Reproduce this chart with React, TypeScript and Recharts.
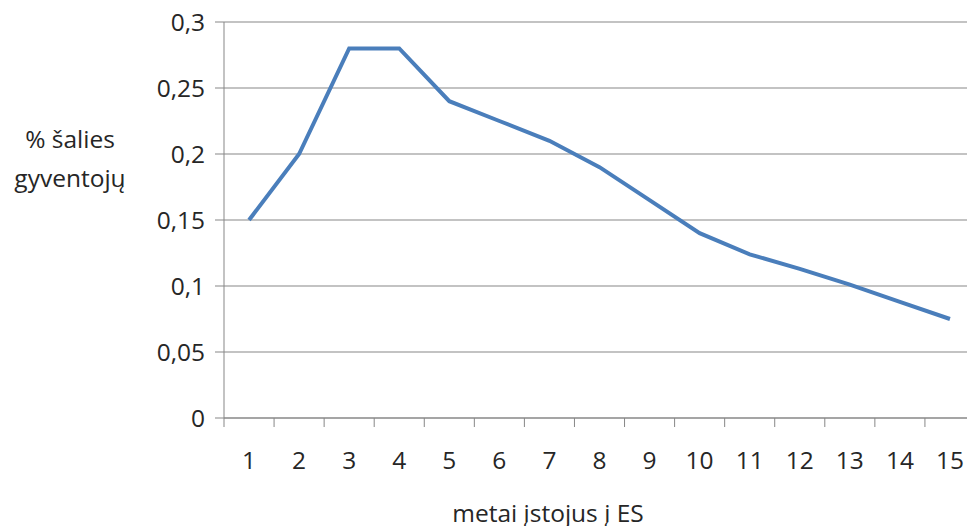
import { CartesianGrid, Label, Line, LineChart, XAxis, YAxis } from "recharts";

// years since joining the EU
const years = ["1", "2", "3", "4", "5", "6", "7", "8", "9", "10", "11", "12", "13", "14", "15"];
// share of the country's population (%)
const shares = [0.15, 0.2, 0.28, 0.28, 0.24, 0.225, 0.21, 0.19, 0.165, 0.14, 0.124, 0.113, 0.101, 0.088, 0.075];
const yTicks = [0, 0.05, 0.1, 0.15, 0.2, 0.25, 0.3];

const data = years.map((year, i) => ({ year, share: shares[i] }));

const FONT = "'Open Sans', sans-serif";
const GRAY = "#878787";
const TEXT = "#262626";
const FS = 24.5;

const fmt = (v: number) => String(v).replace(".", ",");

// category axis with tick marks between the categories, like Excel
const BetweenTick = (props: any) => {
  const { x, y, payload, index, visibleTicksCount } = props;
  const off = payload.offset ?? 0;
  const last = index === visibleTicksCount - 1;
  return (
    <g>
      <line x1={x - off} y1={y} x2={x - off} y2={y + 9} stroke={GRAY} />
      {last && <line x1={x + off} y1={y} x2={x + off} y2={y + 9} stroke={GRAY} />}
      <text x={x} y={y + 51} textAnchor="middle" fontSize={FS} fill={TEXT} fontFamily={FONT}>
        {payload.value}
      </text>
    </g>
  );
};

const YTitle = () => (
  <text x={70} y={148} textAnchor="middle" fontSize={FS} fill={TEXT} fontFamily={FONT}>
    <tspan x={70}>% šalies</tspan>
    <tspan x={70} dy={39}>gyventojų</tspan>
  </text>
);

const XTitle = () => (
  <text x={548} y={522} textAnchor="middle" fontSize={FS} fill={TEXT} fontFamily={FONT}>
    metai įstojus į ES
  </text>
);

export default function App() {
  return (
    <div
      style={{
        position: "fixed",
        left: 0,
        top: 0,
        width: 967,
        height: 526,
        overflow: "hidden",
        background: "#fff",
      }}
    >
      <LineChart width={985} height={540} data={data} margin={{ top: 22, right: 10, bottom: 0, left: 0 }}>
        <CartesianGrid vertical={false} stroke={GRAY} strokeWidth={1} />
        <XAxis
          dataKey="year"
          scale="band"
          height={122}
          stroke={GRAY}
          tickLine={false}
          tickSize={0}
          tickMargin={0}
          interval={0}
          tick={<BetweenTick />}
        >
          <Label content={<XTitle />} />
        </XAxis>
        <YAxis
          width={224}
          domain={[0, 0.3]}
          ticks={yTicks}
          tickFormatter={fmt}
          stroke={GRAY}
          tickSize={9}
          tickMargin={10}
          tick={{ fontSize: FS, fill: TEXT, fontFamily: FONT }}
        >
          <Label content={<YTitle />} />
        </YAxis>
        <Line
          dataKey="share"
          stroke="#4a7ebb"
          strokeWidth={4}
          dot={false}
          isAnimationActive={false}
        />
      </LineChart>
    </div>
  );
}
